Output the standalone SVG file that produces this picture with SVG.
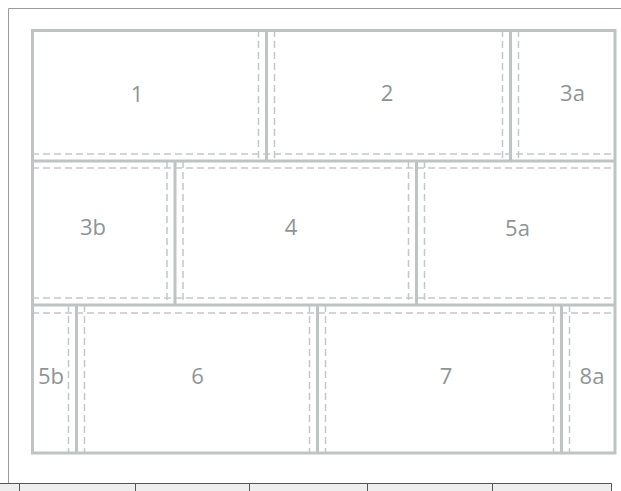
<svg xmlns="http://www.w3.org/2000/svg" width="621" height="491" viewBox="0 0 621 491">
<style>
.outer{stroke:#9a9a9a;stroke-width:1;fill:none}
.frame{stroke:#bec3c3;stroke-width:3;fill:none}
.solid{stroke:#bec3c3;stroke-width:3}
.dash{stroke:#c2c7c7;stroke-width:1.5;stroke-dasharray:7 4;fill:none}
.lbl{font-family:"Open Sans","Liberation Sans",sans-serif;font-size:22px;fill:#8e9595;text-anchor:middle}
.tbl{stroke:#555;stroke-width:1}
</style>
<rect x="0" y="0" width="621" height="491" fill="#fff"/>
<g id="page">
<path class="outer" d="M8.5 491 V8.5 H621"/>
<rect x="0" y="483.5" width="611.5" height="8" fill="#eeeeee"/>
<path class="tbl" d="M0 483.5 H611.5 M19.5 483.5 V491 M135.5 483.5 V491 M249.5 483.5 V491 M367.5 483.5 V491 M492.5 483.5 V491 M611.5 483.5 V491"/>
</g>
<g id="connectors">
<g id="guides">
<path class="dash" d="M32 154 H615 M32 168 H615 M32 298 H615 M32 313 H615"/>
<path class="dash" d="M258.5 30 V161 M274.5 30 V161 M502.5 30 V161 M518.5 30 V161"/>
<path class="dash" d="M167 161 V305 M183 161 V305 M408.5 161 V305 M424.5 161 V305"/>
<path class="dash" d="M68.5 305 V453 M84.5 305 V453 M309.5 305 V453 M325.5 305 V453 M553.5 305 V453 M569.5 305 V453"/>
</g>
<g id="dividers">
<line class="solid" x1="32" y1="161" x2="615" y2="161"/>
<line class="solid" x1="32" y1="305" x2="615" y2="305"/>
<line class="solid" x1="266.5" y1="30" x2="266.5" y2="161"/>
<line class="solid" x1="510.5" y1="30" x2="510.5" y2="161"/>
<line class="solid" x1="175" y1="161" x2="175" y2="305"/>
<line class="solid" x1="416.5" y1="161" x2="416.5" y2="305"/>
<line class="solid" x1="76.5" y1="305" x2="76.5" y2="453"/>
<line class="solid" x1="317.5" y1="305" x2="317.5" y2="453"/>
<line class="solid" x1="561.5" y1="305" x2="561.5" y2="453"/>
</g>
<rect class="frame" x="32.5" y="30.5" width="582.5" height="422.5"/>
</g>
<g id="n1"><text class="lbl" x="137" y="102">1</text></g>
<g id="n2"><text class="lbl" x="387" y="101">2</text></g>
<g id="n3a"><text class="lbl" x="572.5" y="101">3a</text></g>
<g id="n3b"><text class="lbl" x="93" y="235">3b</text></g>
<g id="n4"><text class="lbl" x="291" y="235">4</text></g>
<g id="n5a"><text class="lbl" x="517.5" y="236">5a</text></g>
<g id="n5b"><text class="lbl" x="51" y="384">5b</text></g>
<g id="n6"><text class="lbl" x="197.5" y="384">6</text></g>
<g id="n7"><text class="lbl" x="446" y="384">7</text></g>
<g id="n8a"><text class="lbl" x="592" y="384">8a</text></g>
</svg>
